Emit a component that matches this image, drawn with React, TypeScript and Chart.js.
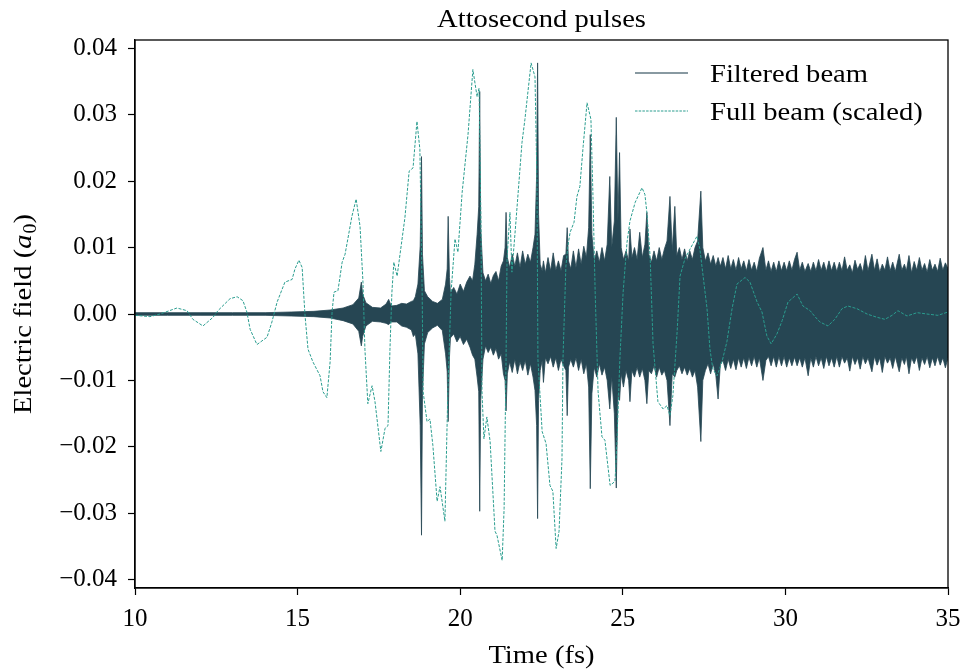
import React, { useEffect, useRef } from "react";
import { Chart, registerables } from "chart.js";

Chart.register(...registerables);

// ---------- text ----------
const TITLE = "Attosecond pulses";
const X_LABEL = "Time (fs)";
const Y_LABEL_MAIN = "Electric field (";
const Y_LABEL_VAR = "a";
const Y_LABEL_SUB = "0";
const Y_LABEL_END = ")";
const SERIES_NAMES = ["Filtered beam", "Full beam (scaled)"];

// ---------- ticks ----------
const X_TICKS = [10, 15, 20, 25, 30, 35];
const X_TICK_LABELS = ["10", "15", "20", "25", "30", "35"];
const Y_TICKS = [-0.04, -0.03, -0.02, -0.01, 0, 0.01, 0.02, 0.03, 0.04];
const Y_TICK_LABELS = ["\u22120.04", "\u22120.03", "\u22120.02", "\u22120.01", "0.00", "0.01", "0.02", "0.03", "0.04"];

// ---------- full beam (scaled), dashed ----------
const FULL_T = [
  10.0, 10.46, 10.77, 11.29, 11.6, 11.78, 12.09, 12.4, 12.55, 12.92, 13.14, 13.32, 13.44, 13.54, 13.75,
  14.06, 14.21, 14.37, 14.61, 14.83, 14.92, 15.04, 15.14, 15.2, 15.23, 15.32, 15.47, 15.69, 15.78, 15.9,
  16.0, 16.06, 16.12, 16.24, 16.37, 16.46, 16.67, 16.8, 16.92, 17.01, 17.07, 17.16, 17.29, 17.38, 17.56,
  17.69, 17.78, 17.84, 17.9, 17.96, 18.06, 18.15, 18.3, 18.43, 18.55, 18.67, 18.76, 18.83, 18.86, 18.98,
  19.07, 19.16, 19.29, 19.38, 19.53, 19.62, 19.72, 19.84, 19.93, 20.06, 20.24, 20.39, 20.52, 20.58, 20.64,
  20.67, 20.73, 20.82, 20.92, 21.07, 21.13, 21.29, 21.35, 21.41, 21.44, 21.53, 21.59, 21.72, 21.9, 21.99,
  22.18, 22.3, 22.36, 22.39, 22.52, 22.64, 22.76, 22.85, 22.95, 23.04, 23.13, 23.16, 23.25, 23.31, 23.38,
  23.5, 23.59, 23.68, 23.78, 23.9, 24.02, 24.08, 24.15, 24.24, 24.36, 24.45, 24.61, 24.76, 24.82, 24.91,
  25.01, 25.13, 25.22, 25.38, 25.59, 25.68, 25.74, 25.84, 25.93, 26.08, 26.24, 26.36, 26.45, 26.54, 26.67,
  26.76, 26.91, 27.07, 27.28, 27.37, 27.47, 27.59, 27.68, 27.77, 27.9, 28.05, 28.2, 28.36, 28.51, 28.76,
  28.91, 29.13, 29.28, 29.43, 29.56, 29.74, 29.9, 30.08, 30.36, 30.54, 30.76, 30.91, 31.06, 31.31, 31.52,
  31.74, 31.92, 32.2, 32.51, 32.82, 33.06, 33.28, 33.46, 33.74, 34.05, 34.35, 34.69, 35.0,
];
const FULL_V = [
  -0.0002, -0.0004, 0.0, 0.0009, 0.0005, -0.0008, -0.0018, -0.0005, 0.0005, 0.0023, 0.0026, 0.002, 0.0003, -0.0023, -0.0046,
  -0.0035, -0.0012, 0.0018, 0.0048, 0.0052, 0.0068, 0.0081, 0.007, 0.002, -0.0003, -0.0053, -0.0072, -0.0093, -0.0117, -0.0126,
  -0.0072, 0.0003, 0.0033, 0.0035, 0.0078, 0.009, 0.0147, 0.0173, 0.0132, 0.0048, -0.0053, -0.0135, -0.0108, -0.0132, -0.0207,
  -0.0172, -0.0168, -0.0053, 0.0033, 0.0078, 0.0057, 0.009, 0.0145, 0.0215, 0.022, 0.029, 0.0248, 0.0033, -0.0117, -0.0162,
  -0.0158, -0.0198, -0.0282, -0.026, -0.0312, -0.0117, 0.0033, 0.0113, 0.0093, 0.0183, 0.027, 0.0368, 0.0327, 0.034, 0.0132,
  -0.0117, -0.0188, -0.0155, -0.0192, -0.0327, -0.0333, -0.0371, -0.0293, -0.0068, 0.0083, 0.0153, 0.0063, 0.0143, 0.0258, 0.0293,
  0.0378, 0.0357, 0.02, -0.0068, -0.0177, -0.0195, -0.0258, -0.0267, -0.0353, -0.0327, -0.0218, -0.0068, 0.0072, 0.0102, 0.0123,
  0.0138, 0.0177, 0.0192, 0.0252, 0.0318, 0.0293, 0.0183, 0.0033, -0.0117, -0.0185, -0.019, -0.0258, -0.0252, -0.0192, -0.0068,
  0.0033, 0.0108, 0.014, 0.0168, 0.019, 0.018, 0.0153, 0.0087, -0.0045, -0.0132, -0.0143, -0.0138, -0.0153, -0.0123, -0.0027,
  0.0057, 0.0083, 0.0098, 0.0117, 0.0098, 0.0057, 0.0008, -0.0053, -0.0083, -0.0093, -0.0072, -0.0042, 0.0008, 0.0045, 0.0055,
  0.0048, 0.0018, 0.0003, -0.0033, -0.0045, -0.003, -0.001, 0.0018, 0.003, 0.0012, 0.0005, -0.0004, -0.0012, -0.0018, -0.0008,
  0.0008, 0.0012, 0.0008, 0.0, -0.0005, -0.0008, -0.0002, 0.0005, -0.0003, 0.0002, 0.0, -0.0002, 0.0003,
];

// ---------- filtered beam: upper / lower extent of the fast oscillation ----------
const FILT_T = [
  10.0, 11.0, 12.0, 13.0, 14.0, 14.8, 15.5, 16.0, 16.4, 16.7,
  16.88, 16.96, 17.0, 17.1, 17.3, 17.55, 17.72, 17.8, 17.88, 18.05,
  18.2, 18.35, 18.5, 18.56, 18.62, 18.7, 18.77, 18.81, 18.84, 18.9,
  19.0, 19.15, 19.3, 19.45, 19.55, 19.6, 19.63, 19.67,
  19.7, 19.8, 19.9, 20.0, 20.1, 20.2, 20.3, 20.38, 20.45, 20.52,
  20.57, 20.6, 20.63, 20.7, 20.78, 20.86, 20.94, 21.02, 21.1, 21.18,
  21.26, 21.33, 21.38, 21.41, 21.45, 21.52, 21.6, 21.68, 21.76, 21.84,
  21.92, 22.0, 22.08, 22.16, 22.24, 22.3, 22.35, 22.38, 22.41, 22.46,
  22.52, 22.56, 22.62, 22.7, 22.78, 22.86, 22.94, 23.02, 23.1, 23.18,
  23.25, 23.29, 23.33, 23.4, 23.48, 23.56, 23.64, 23.72, 23.8, 23.88,
  23.95, 24.0, 24.05, 24.12, 24.2, 24.28, 24.36, 24.44, 24.52, 24.6,
  24.66, 24.74, 24.8, 24.85, 24.9, 24.95, 25.02, 25.1, 25.18, 25.22,
  25.28, 25.36, 25.44, 25.52, 25.6, 25.68, 25.74, 25.8, 25.88, 25.96,
  26.04, 26.12, 26.2, 26.28, 26.36, 26.45, 26.52, 26.6, 26.66, 26.74,
  26.82, 26.9, 26.98, 27.06, 27.14, 27.22, 27.3, 27.4, 27.46, 27.54,
  27.62, 27.7, 27.78, 27.86, 27.93, 28.0, 28.08, 28.16, 28.24, 28.32,
  28.4, 28.48, 28.56, 28.64, 28.72, 28.8, 28.88, 28.96, 29.04, 29.12,
  29.2, 29.31, 29.4, 29.48, 29.56, 29.64, 29.72, 29.8, 29.88, 29.96,
  30.04, 30.12, 30.2, 30.28, 30.36, 30.44, 30.52, 30.6, 30.7, 30.78,
  30.86, 30.94, 31.02, 31.1, 31.18, 31.26, 31.34, 31.42, 31.5, 31.58,
  31.66, 31.74, 31.82, 31.9, 31.98, 32.06, 32.14, 32.22, 32.3, 32.38,
  32.46, 32.54, 32.66, 32.74, 32.82, 32.9, 32.98, 33.06, 33.14, 33.22,
  33.3, 33.38, 33.5, 33.58, 33.66, 33.72, 33.8, 33.88, 33.96, 34.04,
  34.12, 34.2, 34.28, 34.36, 34.44, 34.52, 34.6, 34.68, 34.76, 34.84,
  34.92, 35.0,
];
const FILT_HI = [
  0.0002, 0.0002, 0.0002, 0.0002, 0.0002, 0.0003, 0.0004, 0.0006, 0.0009, 0.0014,
  0.0024, 0.0048, 0.003, 0.0017, 0.001, 0.0009, 0.0015, 0.0022, 0.0012, 0.0013,
  0.0016, 0.0015, 0.0019, 0.002, 0.0026, 0.0045, 0.0102, 0.0237, 0.009, 0.0035,
  0.0026, 0.0019, 0.0016, 0.0022, 0.0045, 0.0068, 0.0147, 0.0055,
  0.0032, 0.004, 0.003, 0.0045, 0.0034, 0.0048, 0.0057, 0.005, 0.0075, 0.012,
  0.0162, 0.0335, 0.013, 0.0062, 0.005, 0.006, 0.0046, 0.0058, 0.0064, 0.005,
  0.0072, 0.008, 0.01, 0.0153, 0.0085, 0.007, 0.009, 0.0072, 0.0092, 0.007,
  0.0095, 0.0075, 0.009, 0.0078, 0.01, 0.012, 0.0207, 0.0378, 0.015, 0.0075,
  0.0065, 0.008, 0.0062, 0.0085, 0.0065, 0.0092, 0.0066, 0.008, 0.0065, 0.0088,
  0.009, 0.013, 0.008, 0.0068, 0.0095, 0.007, 0.0098, 0.0075, 0.0102, 0.0085,
  0.013, 0.027, 0.012, 0.008, 0.0095, 0.0078, 0.01, 0.008, 0.0105, 0.0207,
  0.01, 0.014, 0.0296, 0.014, 0.0243, 0.01, 0.0082, 0.0095, 0.008, 0.0128,
  0.0085, 0.01, 0.0082, 0.0123, 0.0085, 0.0105, 0.0153, 0.009, 0.0078, 0.0095,
  0.008, 0.01, 0.0082, 0.0098, 0.011, 0.0177, 0.0095, 0.0162, 0.0088, 0.01,
  0.0082, 0.0098, 0.008, 0.0095, 0.0082, 0.01, 0.011, 0.0185, 0.01, 0.008,
  0.0092, 0.0075, 0.0088, 0.0072, 0.0085, 0.0072, 0.0085, 0.0068, 0.0088, 0.0068,
  0.0082, 0.0066, 0.0085, 0.0068, 0.008, 0.0065, 0.0082, 0.0066, 0.0078, 0.0064,
  0.0084, 0.01, 0.0066, 0.008, 0.0064, 0.0078, 0.0064, 0.008, 0.0065, 0.0078,
  0.0065, 0.008, 0.0066, 0.0082, 0.0093, 0.0066, 0.0078, 0.0064, 0.0076, 0.0064,
  0.0078, 0.0065, 0.0082, 0.0066, 0.0078, 0.0064, 0.008, 0.0065, 0.0078, 0.0064,
  0.0078, 0.0065, 0.0086, 0.0066, 0.0074, 0.0062, 0.0081, 0.0067, 0.0076, 0.0063,
  0.0088, 0.0065, 0.009, 0.0066, 0.0083, 0.0063, 0.0075, 0.0066, 0.0086, 0.0065,
  0.0078, 0.0064, 0.009, 0.0066, 0.0075, 0.0065, 0.0088, 0.0062, 0.0079, 0.0066,
  0.0085, 0.0066, 0.0076, 0.0063, 0.0082, 0.0066, 0.0075, 0.0064, 0.0084, 0.0066,
  0.0077, 0.0068,
];
const FILT_LO = [
  -0.0002, -0.0002, -0.0002, -0.0002, -0.0002, -0.0003, -0.0004, -0.0006, -0.001, -0.0015,
  -0.0026, -0.0048, -0.0034, -0.0018, -0.0011, -0.0012, -0.0014, -0.0016, -0.0012, -0.0012,
  -0.0018, -0.002, -0.0024, -0.0034, -0.003, -0.006, -0.0168, -0.0333, -0.012, -0.0045,
  -0.0028, -0.0021, -0.0017, -0.0025, -0.006, -0.0087, -0.0162, -0.0065,
  -0.0036, -0.003, -0.0042, -0.0034, -0.0046, -0.0038, -0.005, -0.0062, -0.0068, -0.0095,
  -0.0117, -0.0297, -0.013, -0.0068, -0.0048, -0.0058, -0.005, -0.0062, -0.0052, -0.0068,
  -0.006, -0.009, -0.01, -0.0146, -0.009, -0.0072, -0.0088, -0.0068, -0.009, -0.0072,
  -0.0085, -0.007, -0.0092, -0.0075, -0.0095, -0.0115, -0.0168, -0.0308, -0.013, -0.0085,
  -0.007, -0.0103, -0.0066, -0.0075, -0.0064, -0.008, -0.0066, -0.0085, -0.0068, -0.0078,
  -0.0085, -0.0153, -0.008, -0.0068, -0.008, -0.0066, -0.0085, -0.0068, -0.009, -0.0075,
  -0.011, -0.0263, -0.012, -0.008, -0.0095, -0.0075, -0.0092, -0.008, -0.01, -0.0143,
  -0.0095, -0.015, -0.0262, -0.012, -0.013, -0.009, -0.011, -0.0085, -0.01, -0.0132,
  -0.0085, -0.0095, -0.008, -0.0095, -0.0082, -0.01, -0.0135, -0.0085, -0.009, -0.0078,
  -0.0095, -0.008, -0.0092, -0.0085, -0.01, -0.0168, -0.009, -0.0095, -0.0085, -0.0078,
  -0.009, -0.008, -0.0092, -0.0082, -0.0095, -0.0085, -0.011, -0.0192, -0.01, -0.0085,
  -0.0075, -0.009, -0.0075, -0.0092, -0.0128, -0.0075, -0.007, -0.0085, -0.0068, -0.0082,
  -0.0068, -0.0084, -0.0066, -0.008, -0.0066, -0.0082, -0.0065, -0.0078, -0.0064, -0.008,
  -0.0066, -0.01, -0.007, -0.0064, -0.0078, -0.0064, -0.008, -0.0064, -0.0078, -0.0064,
  -0.008, -0.0066, -0.0078, -0.0065, -0.0078, -0.0066, -0.008, -0.0066, -0.0093, -0.0066,
  -0.008, -0.0064, -0.0078, -0.0066, -0.0082, -0.0064, -0.0078, -0.0066, -0.008, -0.0064,
  -0.008, -0.0064, -0.0074, -0.0066, -0.0086, -0.0064, -0.0076, -0.0066, -0.0083, -0.0064,
  -0.0075, -0.0066, -0.0087, -0.0064, -0.0077, -0.0066, -0.0088, -0.0064, -0.0074, -0.0066,
  -0.0082, -0.0064, -0.0087, -0.0066, -0.0076, -0.0064, -0.009, -0.0066, -0.0075, -0.0064,
  -0.0085, -0.0066, -0.0076, -0.0064, -0.0081, -0.0066, -0.0078, -0.0064, -0.0077, -0.0066,
  -0.0081, -0.0066,
];

// ---------- style ----------
const DARK = "#264653";
const TEAL = "#2a9d8f";
const FONT = "'Liberation Serif', 'Times New Roman', serif";
const STRETCH = 1.1;

function stretchedText(ctx: CanvasRenderingContext2D, text: string, x: number, y: number, size: number, align: CanvasTextAlign) {
  ctx.save();
  ctx.translate(x, y);
  ctx.scale(STRETCH, 1);
  ctx.font = `${size}px ${FONT}`;
  ctx.textAlign = align;
  ctx.textBaseline = "alphabetic";
  ctx.fillStyle = "#000";
  ctx.fillText(text, 0, 0);
  ctx.restore();
}

const decorPlugin = {
  id: "decor",
  afterDraw(chart: any) {
    const ctx: CanvasRenderingContext2D = chart.ctx;
    const a = chart.chartArea;
    ctx.save();
    // frame
    ctx.strokeStyle = "#000";
    ctx.lineWidth = 1.3;
    ctx.strokeRect(a.left, a.top, a.right - a.left, a.bottom - a.top);
    const cx = (a.left + a.right) / 2;
    // title & x label
    stretchedText(ctx, TITLE, cx, a.top - 13, 26, "center");
    stretchedText(ctx, X_LABEL, cx, a.bottom + 75, 26, "center");
    // y label with italic a and subscript 0
    ctx.save();
    ctx.translate(31, (a.top + a.bottom) / 2);
    ctx.rotate(-Math.PI / 2);
    ctx.scale(STRETCH, 1);
    ctx.fillStyle = "#000";
    ctx.textBaseline = "alphabetic";
    ctx.textAlign = "left";
    const fMain = `26px ${FONT}`;
    const fVar = `italic 26px ${FONT}`;
    const fSub = `18px ${FONT}`;
    ctx.font = fMain;
    const w1 = ctx.measureText(Y_LABEL_MAIN).width;
    const w4 = ctx.measureText(Y_LABEL_END).width;
    ctx.font = fVar;
    const w2 = ctx.measureText(Y_LABEL_VAR).width;
    ctx.font = fSub;
    const w3 = ctx.measureText(Y_LABEL_SUB).width;
    let x = -(w1 + w2 + w3 + w4 + 1) / 2;
    ctx.font = fMain;
    ctx.fillText(Y_LABEL_MAIN, x, 0);
    x += w1;
    ctx.font = fVar;
    ctx.fillText(Y_LABEL_VAR, x, 0);
    x += w2 + 1;
    ctx.font = fSub;
    ctx.fillText(Y_LABEL_SUB, x, 5);
    x += w3;
    ctx.font = fMain;
    ctx.fillText(Y_LABEL_END, x, 0);
    ctx.restore();
    // legend
    const lx0 = a.right - 313;
    const lx1 = a.right - 260;
    const tx = a.right - 238;
    const row1 = a.top + 33;
    const row2 = a.top + 71;
    ctx.lineWidth = 2;
    ctx.strokeStyle = "rgba(38,70,83,0.55)";
    ctx.setLineDash([]);
    ctx.beginPath();
    ctx.moveTo(lx0, row1);
    ctx.lineTo(lx1, row1);
    ctx.stroke();
    ctx.lineWidth = 1;
    ctx.strokeStyle = TEAL;
    ctx.setLineDash([2.5, 1.2]);
    ctx.beginPath();
    ctx.moveTo(lx0, row2);
    ctx.lineTo(lx1, row2);
    ctx.stroke();
    ctx.setLineDash([]);
    stretchedText(ctx, SERIES_NAMES[0], tx, row1 + 9, 26, "left");
    stretchedText(ctx, SERIES_NAMES[1], tx, row2 + 9, 26, "left");
    ctx.restore();
  },
};

function pairs(ts: number[], vs: number[]) {
  const n = Math.min(ts.length, vs.length);
  const out: { x: number; y: number }[] = [];
  for (let i = 0; i < n; i++) out.push({ x: ts[i], y: vs[i] });
  return out;
}

export default function App() {
  const ref = useRef<HTMLCanvasElement | null>(null);
  useEffect(() => {
    if (!ref.current) return;
    const tickFont = { family: FONT, size: 25 };
    const chart = new Chart(ref.current, {
      type: "line",
      data: {
        datasets: [
          {
            label: SERIES_NAMES[1],
            data: pairs(FULL_T, FULL_V),
            borderColor: TEAL,
            borderWidth: 1,
            borderDash: [3, 1.5],
            pointRadius: 0,
            fill: false,
            tension: 0,
            order: 0,
          },
          {
            label: SERIES_NAMES[0],
            data: pairs(FILT_T, FILT_HI),
            borderColor: DARK,
            backgroundColor: DARK,
            borderWidth: 0.8,
            pointRadius: 0,
            fill: "+1",
            tension: 0,
            order: 1,
          },
          {
            label: SERIES_NAMES[0] + " lower",
            data: pairs(FILT_T, FILT_LO),
            borderColor: DARK,
            borderWidth: 0.8,
            pointRadius: 0,
            fill: false,
            tension: 0,
            order: 2,
          },
        ],
      } as any,
      options: {
        responsive: false,
        animation: false,
        events: [],
        layout: { padding: { left: 0, right: 17, top: 40, bottom: 0 } },
        plugins: { legend: { display: false }, tooltip: { enabled: false }, title: { display: false } },
        scales: {
          x: {
            type: "linear",
            min: 10,
            max: 35,
            afterBuildTicks: (s: any) => {
              s.ticks = X_TICKS.map((v) => ({ value: v }));
            },
            afterFit: (s: any) => {
              s.height = 83;
              s.paddingLeft = 0;
              s.paddingRight = 0;
            },
            ticks: {
              callback: (v: any) => X_TICK_LABELS[X_TICKS.indexOf(Number(v))] ?? "",
              font: tickFont,
              color: "#000",
              padding: 9,
              maxRotation: 0,
              autoSkip: false,
            },
            grid: { drawOnChartArea: false, drawTicks: true, tickLength: 7, tickWidth: 1.2, tickColor: "#000" },
            border: { display: true, color: "#000", width: 1.3 },
          },
          y: {
            type: "linear",
            min: -0.04125,
            max: 0.04125,
            afterBuildTicks: (s: any) => {
              s.ticks = Y_TICKS.map((v) => ({ value: v }));
            },
            afterFit: (s: any) => {
              s.width = 135;
              s.paddingTop = 0;
              s.paddingBottom = 0;
            },
            ticks: {
              callback: (v: any) => {
                let best = 0;
                Y_TICKS.forEach((t, i) => {
                  if (Math.abs(t - Number(v)) < Math.abs(Y_TICKS[best] - Number(v))) best = i;
                });
                return Y_TICK_LABELS[best];
              },
              font: tickFont,
              color: "#000",
              padding: 11,
              autoSkip: false,
            },
            grid: { drawOnChartArea: false, drawTicks: true, tickLength: 7, tickWidth: 1.2, tickColor: "#000" },
            border: { display: true, color: "#000", width: 1.3 },
          },
        },
      } as any,
      plugins: [decorPlugin],
    });
    return () => chart.destroy();
  }, []);
  return (
    <div style={{ position: "fixed", left: 0, top: 0, width: 965, height: 671, background: "#fff" }}>
      <canvas ref={ref} width={965} height={671} style={{ display: "block" }} />
    </div>
  );
}
